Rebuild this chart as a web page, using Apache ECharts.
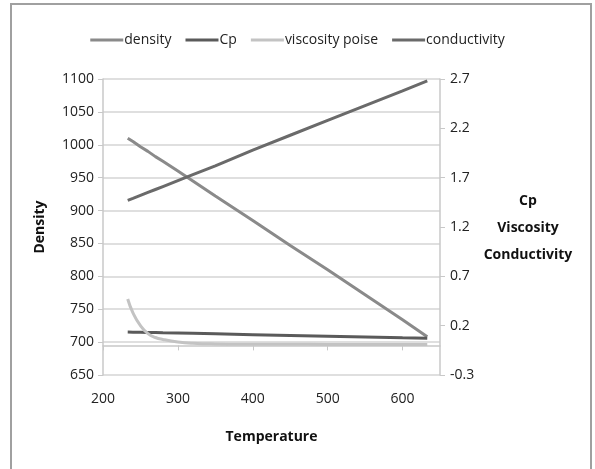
<!DOCTYPE html>
<html>
<head>
<meta charset="utf-8">
<script src="https://cdn.jsdelivr.net/npm/echarts@6/dist/echarts.min.js"></script>
<style>
  html, body { margin: 0; padding: 0; background: #fff; }
  #chart { width: 595px; height: 469px; }
</style>
</head>
<body>
<div id="chart"></div>
<script>
// temperatures and values
var temperature = [233, 240, 250, 260, 270, 280, 300, 320, 350, 400, 450, 500, 550, 600, 633];
var density = [1010, 1005, 997, 990, 982, 975, 960, 945, 922, 885, 847, 810, 772, 734, 708];
var cp = [0.135, 0.134, 0.133, 0.131, 0.13, 0.128, 0.125, 0.122, 0.117, 0.109, 0.101, 0.093, 0.085, 0.077, 0.072];
var viscosity = [0.47, 0.33, 0.2, 0.12, 0.08, 0.06, 0.035, 0.022, 0.015, 0.012, 0.011, 0.01, 0.009, 0.008, 0.008];
var conductivity = [1.47, 1.49, 1.52, 1.55, 1.58, 1.61, 1.67, 1.73, 1.82, 1.98, 2.13, 2.28, 2.43, 2.58, 2.68];

function pairs(ys) {
  return temperature.map(function (t, i) { return [t, ys[i]]; });
}

var font = "'Open Sans', 'Noto Sans', sans-serif";
var axisGray = '#c8c8c8';

var chart = echarts.init(document.getElementById('chart'));

var option = {
  animation: false,
  backgroundColor: '#fff',
  textStyle: { fontFamily: font },
  legend: {
    top: 28,
    left: 'center',
    icon: 'rect',
    itemWidth: 33,
    itemHeight: 3,
    itemGap: 14,
    textStyle: { fontSize: 14, color: '#222', fontFamily: font, padding: [0, 0, 0, -4] },
    data: ['density', 'Cp', 'viscosity poise', 'conductivity']
  },
  grid: { left: 103, right: 155, top: 79, bottom: 94 },
  xAxis: {
    type: 'value',
    min: 200,
    max: 650,
    interval: 100,
    name: 'Temperature',
    nameLocation: 'middle',
    nameGap: 55,
    nameTextStyle: { fontWeight: 'bold', fontSize: 14, color: '#111' },
    axisLine: { lineStyle: { color: axisGray, width: 1.5 } },
    axisTick: { show: true, length: 5, lineStyle: { color: axisGray } },
    axisLabel: {
      fontSize: 14, color: '#222', margin: 17, showMaxLabel: false,
      formatter: function (v) { return v === 650 ? '' : String(v); }
    },
    splitLine: { show: false }
  },
  yAxis: [{
    type: 'value',
    min: 650,
    max: 1100,
    interval: 50,
    name: 'Density',
    nameLocation: 'middle',
    nameGap: 56,
    nameRotate: 90,
    nameTextStyle: { fontWeight: 'bold', fontSize: 14, color: '#111' },
    axisLine: { show: true, lineStyle: { color: axisGray, width: 1.5 } },
    axisTick: { show: true, length: 5, lineStyle: { color: axisGray } },
    axisLabel: {
      fontSize: 14, color: '#222', margin: 9,
      formatter: function (v) { return String(v); }
    },
    splitLine: { show: true, lineStyle: { color: '#d4d4d4', width: 1.5 } }
  }, {
    type: 'value',
    position: 'right',
    min: -0.3,
    max: 2.7,
    interval: 0.5,
    axisLine: { show: true, lineStyle: { color: axisGray, width: 1.5 } },
    axisTick: { show: true, length: 5, lineStyle: { color: axisGray } },
    axisLabel: {
      fontSize: 14, color: '#222', margin: 10,
      formatter: function (v) { return v.toFixed(1); }
    },
    splitLine: { show: false }
  }],
  graphic: [{
    type: 'rect',
    shape: { x: 11, y: 4, width: 580, height: 480 },
    style: { fill: 'none', stroke: '#a0a0a0', lineWidth: 2 },
    silent: true
  }, {
    type: 'text',
    x: 528,
    y: 188,
    style: {
      text: 'Cp\nViscosity\nConductivity',
      font: 'bold 14px ' + font,
      fill: '#111',
      textAlign: 'center',
      lineHeight: 27
    }
  }],
  series: [{
    name: 'density',
    type: 'line',
    yAxisIndex: 0,
    symbol: 'none',
    lineStyle: { color: '#8a8a8a', width: 3 },
    itemStyle: { color: '#8a8a8a' },
    data: pairs(density)
  }, {
    name: 'Cp',
    type: 'line',
    yAxisIndex: 1,
    symbol: 'none',
    lineStyle: { color: '#5a5a5a', width: 3 },
    itemStyle: { color: '#5a5a5a' },
    data: pairs(cp)
  }, {
    name: 'viscosity poise',
    type: 'line',
    yAxisIndex: 1,
    symbol: 'none',
    smooth: true,
    lineStyle: { color: '#c3c3c3', width: 3 },
    itemStyle: { color: '#c3c3c3' },
    data: pairs(viscosity)
  }, {
    name: 'conductivity',
    type: 'line',
    yAxisIndex: 1,
    symbol: 'none',
    lineStyle: { color: '#6a6a6a', width: 3 },
    itemStyle: { color: '#6a6a6a' },
    data: pairs(conductivity)
  }]
};

chart.setOption(option);
window.addEventListener('resize', function () {
  chart.resize();
});
</script>
</body>
</html>
